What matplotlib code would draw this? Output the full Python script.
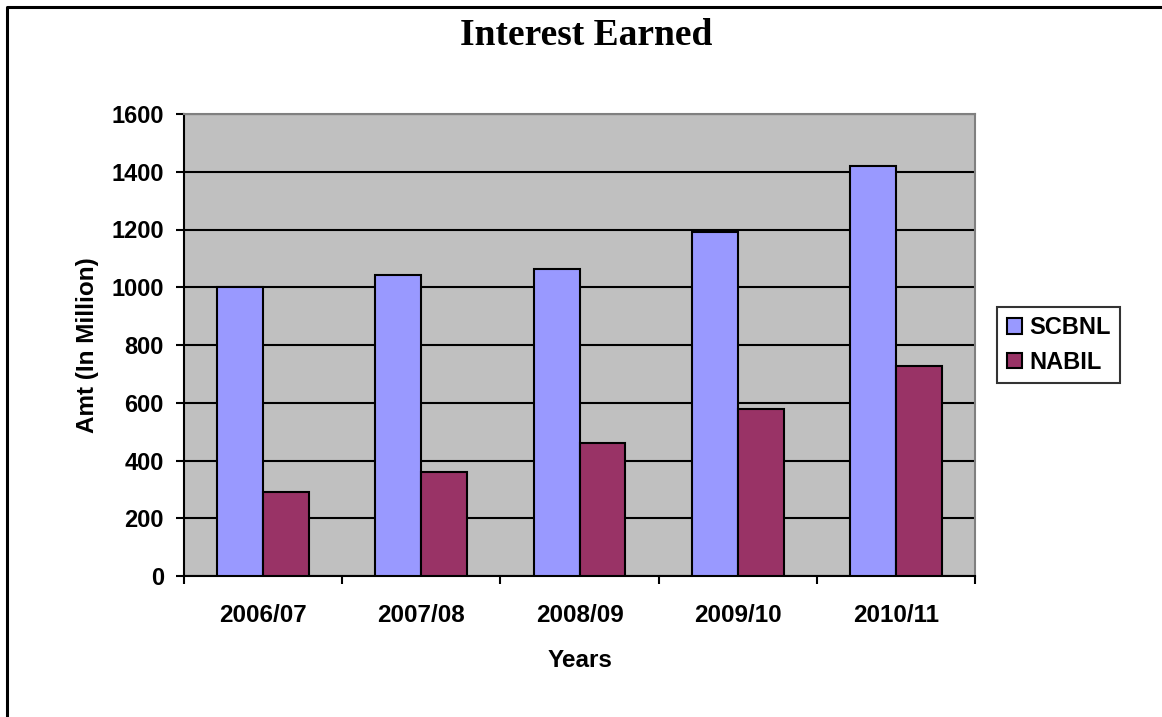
import matplotlib.pyplot as plt
import numpy as np
from matplotlib.lines import Line2D

years = ['2006/07', '2007/08', '2008/09', '2009/10', '2010/11']
scbnl = [1001, 1044, 1062, 1193, 1419]
nabil = [292, 361, 459, 580, 726]

plt.rcParams['font.family'] = 'Liberation Sans'
plt.rcParams['font.weight'] = 'bold'

W, H = 1162, 717
fig = plt.figure(figsize=(W / 100, H / 100), dpi=100)
ax = fig.add_axes([184 / W, 1 - 576 / H, (975 - 184) / W, (576 - 114) / H])

# outer chart border (only left and top edges visible)
fig.lines.append(Line2D([7 / W, 7 / W, 1], [0, 1 - 7 / H, 1 - 7 / H],
                        transform=fig.transFigure, color='black', linewidth=2.2))

x = np.arange(len(years))
w = 0.29
ax.set_facecolor('#c0c0c0')
ax.bar(x - w / 2, scbnl, w, color='#9999ff', edgecolor='black', linewidth=1.5,
       label='SCBNL', zorder=3)
ax.bar(x + w / 2, nabil, w, color='#993366', edgecolor='black', linewidth=1.5,
       label='NABIL', zorder=3)

ax.set_xlim(-0.5, 4.5)
ax.set_ylim(0, 1600)
ax.set_yticks(range(0, 1601, 200))
ax.yaxis.grid(True, color='black', linewidth=1.5, zorder=1)
ax.set_axisbelow(True)

ax.set_xticks(x)
ax.set_xticklabels(years, fontsize=17.5, fontweight='bold')
ax.tick_params(axis='x', length=0, pad=20)
ax.set_xticks(np.arange(-0.5, 5, 1), minor=True)
ax.tick_params(axis='x', which='minor', length=6, width=1.5, direction='out')
ax.tick_params(axis='y', length=6, width=1.5, direction='out', labelsize=17, pad=8.5)
for lab in ax.get_yticklabels():
    lab.set_fontweight('bold')

ax.spines['left'].set_linewidth(1.5)
ax.spines['bottom'].set_linewidth(1.5)
for s in ('top', 'right'):
    ax.spines[s].set_color('#808080')
    ax.spines[s].set_linewidth(1.5)

ax.set_ylabel('Amt (In Million)', fontsize=17.5, fontweight='bold', labelpad=9)
ax.set_xlabel('Years', fontsize=17.5, fontweight='bold', labelpad=16)

fig.text(586 / W, 1 - 45 / H, 'Interest Earned', ha='center', va='baseline',
         fontsize=27, fontweight='bold', family='Liberation Serif')

leg = ax.legend(loc='center left', bbox_to_anchor=(1.028, 0.5), fontsize=17,
                frameon=True, fancybox=False, edgecolor='black',
                handlelength=0.65, handleheight=0.65, handletextpad=0.3,
                borderpad=0.4, labelspacing=0.5, borderaxespad=0)
leg.get_frame().set_linewidth(1.5)
for t in leg.get_texts():
    t.set_fontweight('bold')

fig.savefig('out.png', dpi=100)
